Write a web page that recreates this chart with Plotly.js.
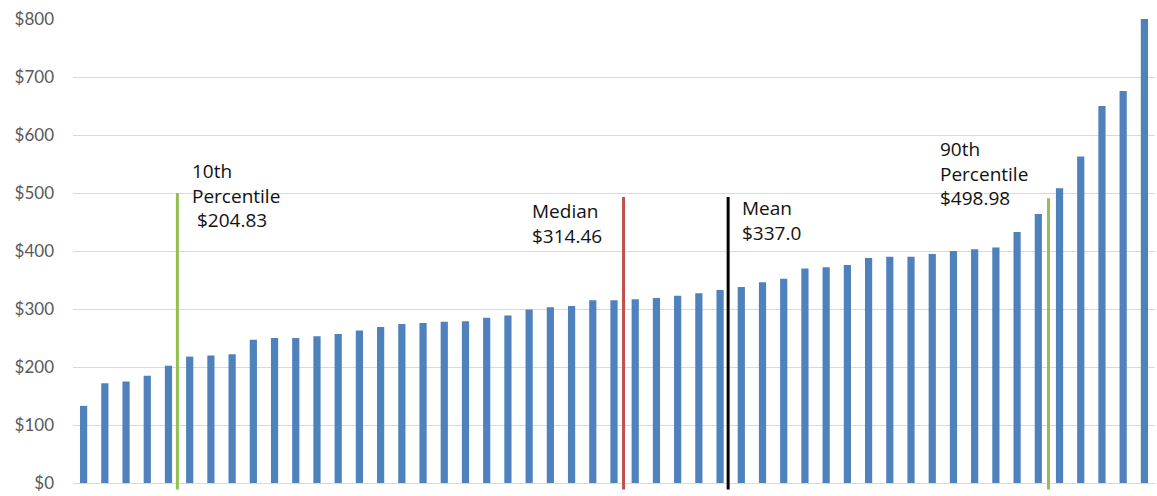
<!DOCTYPE html>
<html>
<head>
<meta charset="utf-8">
<script src="https://cdn.plot.ly/plotly-3.0.1.min.js"></script>
<style>
  html, body { margin: 0; padding: 0; background: #fff; }
  #chart { width: 1157px; height: 496px; }
</style>
</head>
<body>
<div id="chart"></div>
<script>
// Monthly amounts, sorted from lowest to highest
const amounts = [
  133, 172, 175, 185, 202, 218, 220, 222, 247, 250,
  250, 253, 257, 263, 269, 274, 276, 278, 279, 285,
  289, 299, 303, 305, 315, 315, 317, 319, 323, 327,
  333, 338, 346, 352, 370, 372, 376, 388, 390, 390,
  395, 400, 403, 406, 433, 464, 508, 563, 650, 676,
  800
];
const ranks = amounts.map((_, i) => i + 1);

// Reference markers: position along the ranking, height of the marker line, label
const markerNames  = ['10th Percentile', 'Median', 'Mean', '90th Percentile'];
const markerRank   = [5.42, 26.45, 31.38, 46.48];
const markerTop    = [500, 493, 493, 491];
const markerColors = ['#92c050', '#c0504d', '#000000', '#92c050'];
const markerLabels = [
  '10th<br>Percentile<br> $204.83',
  'Median<br>$314.46',
  'Mean<br>$337.0',
  '90th<br>Percentile<br>$498.98'
];
const labelRank = [6.02, 22.06, 31.96, 41.25];
const labelY    = [496, 448, 452, 534];

const yTicks = [0, 100, 200, 300, 400, 500, 600, 700, 800];
const yTickText = yTicks.map(v => '$' + v);

const bars = {
  type: 'bar',
  x: ranks,
  y: amounts,
  marker: { color: '#4f81bd' },
  width: 0.34,
  hoverinfo: 'skip'
};

const shapes = markerRank.map((r, i) => ({
  type: 'line',
  xref: 'x', yref: 'y',
  x0: r, x1: r,
  y0: -11, y1: markerTop[i],
  line: { color: markerColors[i], width: 3 },
  layer: 'above'
}));

const annotations = markerLabels.map((t, i) => ({
  xref: 'x', yref: 'y',
  x: labelRank[i], y: labelY[i],
  text: t,
  showarrow: false,
  xanchor: 'left', yanchor: 'middle',
  align: 'left',
  font: { family: 'Open Sans, sans-serif', size: 19, color: '#111' }
}));

const layout = {
  width: 1157, height: 496,
  margin: { l: 73, r: 2, t: 19, b: 6 },
  paper_bgcolor: '#fff',
  plot_bgcolor: '#fff',
  showlegend: false,
  xaxis: {
    range: [0.5, 51.5],
    showgrid: false,
    zeroline: false,
    showticklabels: false,
    ticks: '',
    showline: false,
    fixedrange: true
  },
  yaxis: {
    range: [-12, 800],
    tickvals: yTicks,
    ticktext: yTickText,
    showgrid: true,
    gridcolor: '#d9d9d9',
    gridwidth: 1,
    zeroline: false,
    showline: false,
    ticks: '',
    ticklabelstandoff: 18,
    tickfont: { family: 'Lato, sans-serif', size: 17, color: '#595959' },
    fixedrange: true
  },
  shapes: shapes,
  annotations: annotations
};

Plotly.newPlot('chart', [bars], layout, { displayModeBar: false, staticPlot: true });
</script>
</body>
</html>
